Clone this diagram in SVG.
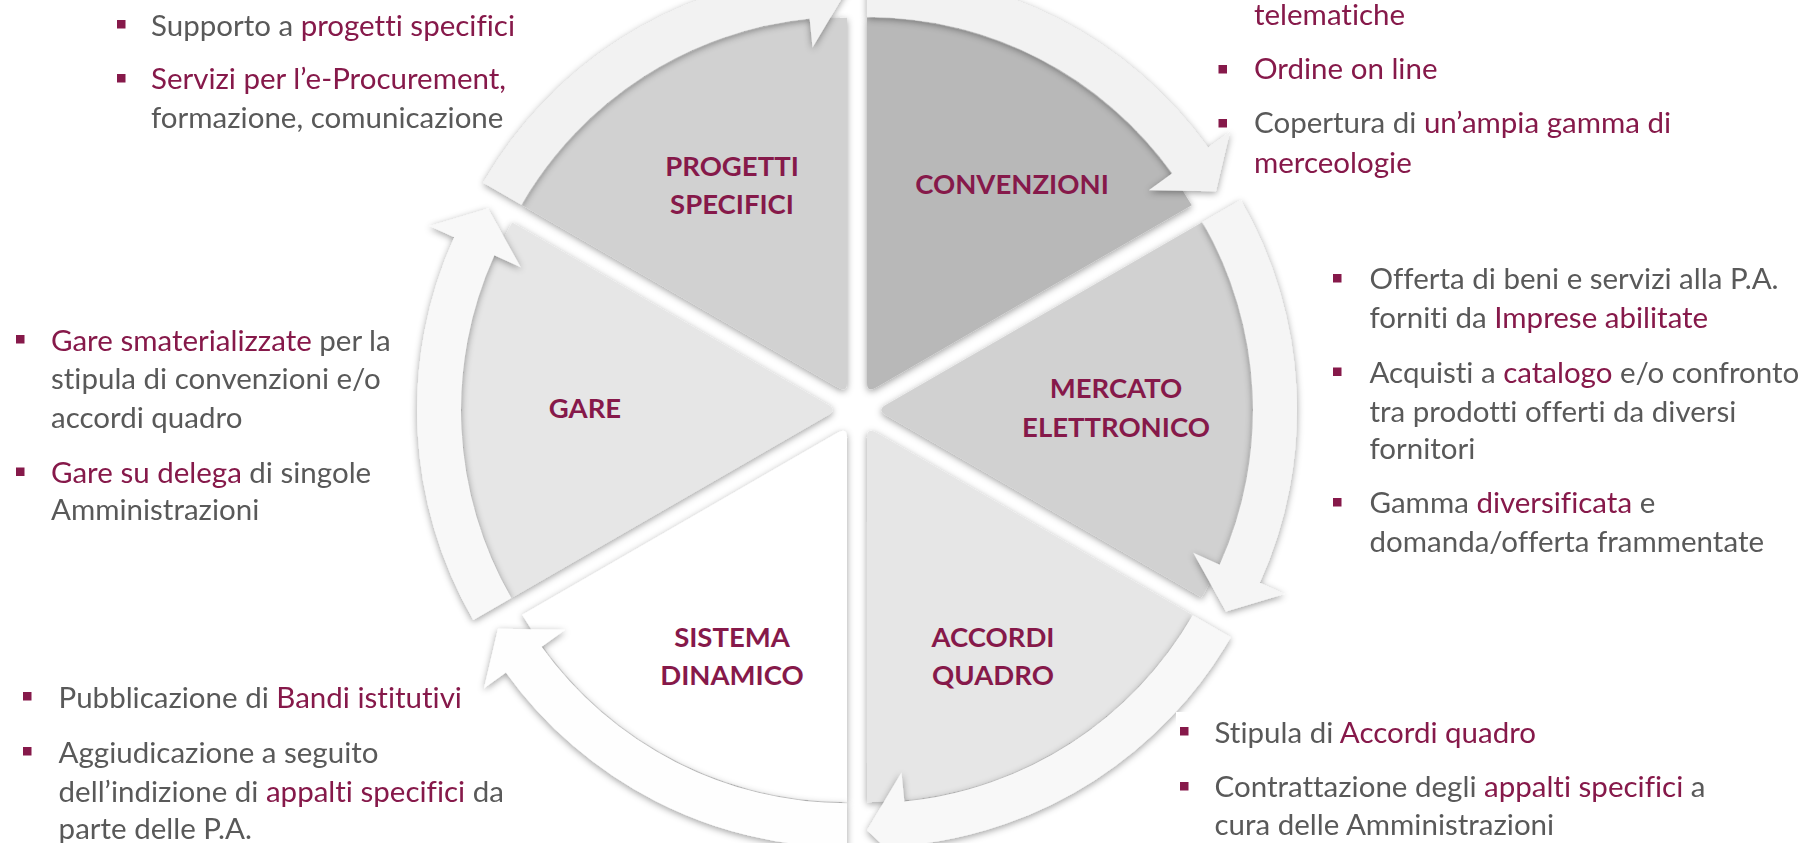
<svg xmlns="http://www.w3.org/2000/svg" width="1804" height="843" viewBox="0 0 1804 843">
<style>
.lbl{font-family:Lato,"Liberation Sans",sans-serif;font-weight:700;font-size:27.5px;fill:#86194A;text-anchor:middle;font-variant-ligatures:none}
.tx{font-family:Lato,"Liberation Sans",sans-serif;font-size:29.5px;fill:#595959;font-variant-ligatures:none}
.m{fill:#86194A}
.bul{fill:#86194A}
</style>
<defs>
<path id="wedge" d="M8.66,5 Q0,0 8.66,-5 L324.76,-187.5 A375,375 0 0 1 324.76,187.5 Z"/>
<path id="arrow" d="M363.73,-210 A420,420 0 0 1 382.79,172.84 L407.40,183.95 L349.01,201.5 L316.26,142.80 L342.69,154.73 A376,376 0 0 0 325.63,-188 Z"/>
<filter id="sh" x="-20%" y="-20%" width="140%" height="140%">
<feDropShadow dx="0" dy="2" stdDeviation="3.5" flood-color="#000" flood-opacity="0.38"/>
</filter>
</defs>
<rect width="1804" height="843" fill="#ffffff"/>

<g id="node-progetti">
<g filter="url(#sh)"><use href="#wedge" transform="translate(847,392.68) rotate(240)" fill="#d1d1d1"/></g>
<text class="lbl" x="732" y="176">PROGETTI</text>
<text class="lbl" x="732" y="214">SPECIFICI</text>
</g>
<g id="node-convenzioni">
<g filter="url(#sh)"><use href="#wedge" transform="translate(867,392.68) rotate(300)" fill="#b8b8b8"/></g>
<text class="lbl" x="1012" y="194">CONVENZIONI</text>
</g>
<g id="node-mercato">
<g filter="url(#sh)"><use href="#wedge" transform="translate(877,410) rotate(0)" fill="#d1d1d1"/></g>
<text class="lbl" x="1116" y="398">MERCATO</text>
<text class="lbl" x="1116" y="437">ELETTRONICO</text>
</g>
<g id="node-accordi">
<g filter="url(#sh)"><use href="#wedge" transform="translate(867,427.32) rotate(60)" fill="#e6e6e6"/></g>
<text class="lbl" x="993" y="647">ACCORDI</text>
<text class="lbl" x="993" y="685">QUADRO</text>
</g>
<g id="node-sistema">
<g filter="url(#sh)"><use href="#wedge" transform="translate(847,427.32) rotate(120)" fill="#ffffff"/></g>
<text class="lbl" x="732" y="647">SISTEMA</text>
<text class="lbl" x="732" y="685">DINAMICO</text>
</g>
<g id="node-gare">
<g filter="url(#sh)"><use href="#wedge" transform="translate(837,410) rotate(180)" fill="#e6e6e6"/></g>
<text class="lbl" x="585" y="418">GARE</text>
</g>

<g id="connectors" filter="url(#sh)">
<use href="#arrow" transform="translate(847,392.68) rotate(240)" fill="#f2f2f2"/>
<use href="#arrow" transform="translate(867,392.68) rotate(300)" fill="#f2f2f2"/>
<use href="#arrow" transform="translate(877,410) rotate(0)" fill="#f5f5f5"/>
<use href="#arrow" transform="translate(867,427.32) rotate(60)" fill="#f8f8f8"/>
<use href="#arrow" transform="translate(847,427.32) rotate(120)" fill="#fefefe"/>
<use href="#arrow" transform="translate(837,410) rotate(180)" fill="#f8f8f8"/>
</g>

<g id="text-progetti">
<rect class="bul" x="117" y="20" width="8.5" height="8.5"/>
<text class="tx" x="151" y="36">Supporto a <tspan class="m">progetti specifici</tspan></text>
<rect class="bul" x="117" y="74" width="8.5" height="8.5"/>
<text class="tx" x="151" y="89.3"><tspan class="m">Servizi per l’e-Procurement,</tspan></text>
<text class="tx" x="151" y="128.3">formazione, comunicazione</text>
</g>
<g id="text-convenzioni">
<text class="tx m" x="1254" y="25">telematiche</text>
<rect class="bul" x="1218.5" y="65" width="8.5" height="8.5"/>
<text class="tx m" x="1254" y="79.3">Ordine on line</text>
<rect class="bul" x="1218.5" y="119" width="8.5" height="8.5"/>
<text class="tx" x="1254" y="133.3">Copertura di <tspan class="m">un’ampia gamma di</tspan></text>
<text class="tx m" x="1254" y="172.7">merceologie</text>
</g>
<g id="text-mercato">
<rect class="bul" x="1333" y="274" width="8.5" height="8.5"/>
<text class="tx" x="1369.5" y="289.3">Offerta di beni e servizi alla P.A.</text>
<text class="tx" x="1369.5" y="328.3">forniti da <tspan class="m">Imprese abilitate</tspan></text>
<rect class="bul" x="1333" y="367.5" width="8.5" height="8.5"/>
<text class="tx" x="1369.5" y="382.7">Acquisti a <tspan class="m">catalogo</tspan> e/o confronto</text>
<text class="tx" x="1369.5" y="421.7">tra prodotti offerti da diversi</text>
<text class="tx" x="1369.5" y="459.3">fornitori</text>
<rect class="bul" x="1333" y="498" width="8.5" height="8.5"/>
<text class="tx" x="1369.5" y="513.3">Gamma <tspan class="m">diversificata</tspan> e</text>
<text class="tx" x="1369.5" y="551.7">domanda/offerta frammentate</text>
</g>
<g id="text-gare">
<rect class="bul" x="16" y="335" width="8.5" height="8.5"/>
<text class="tx" x="51" y="350.7"><tspan class="m">Gare smaterializzate</tspan> per la</text>
<text class="tx" x="51" y="389.3">stipula di convenzioni e/o</text>
<text class="tx" x="51" y="427.7">accordi quadro</text>
<rect class="bul" x="16" y="467.5" width="8.5" height="8.5"/>
<text class="tx" x="51" y="482.7"><tspan class="m">Gare su delega</tspan> di singole</text>
<text class="tx" x="51" y="520">Amministrazioni</text>
</g>
<g id="text-sistema">
<rect class="bul" x="23" y="692" width="8.5" height="8.5"/>
<text class="tx" x="58.6" y="708.3">Pubblicazione di <tspan class="m">Bandi istitutivi</tspan></text>
<rect class="bul" x="23" y="747" width="8.5" height="8.5"/>
<text class="tx" x="58.6" y="762.7">Aggiudicazione a seguito</text>
<text class="tx" x="58.6" y="801.7">dell’indizione di <tspan class="m">appalti specifici</tspan> da</text>
<text class="tx" x="58.6" y="839.3">parte delle P.A.</text>
</g>
<g id="text-accordi">
<rect fill="#ffffff" x="1176" y="712" width="628" height="131"/>
<rect class="bul" x="1180" y="727" width="8.5" height="8.5"/>
<text class="tx" x="1214.5" y="742.7">Stipula di <tspan class="m">Accordi quadro</tspan></text>
<rect class="bul" x="1180" y="782" width="8.5" height="8.5"/>
<text class="tx" x="1214.5" y="797.3">Contrattazione degli <tspan class="m">appalti specifici</tspan> a</text>
<text class="tx" x="1214.5" y="835">cura delle Amministrazioni</text>
</g>
</svg>
